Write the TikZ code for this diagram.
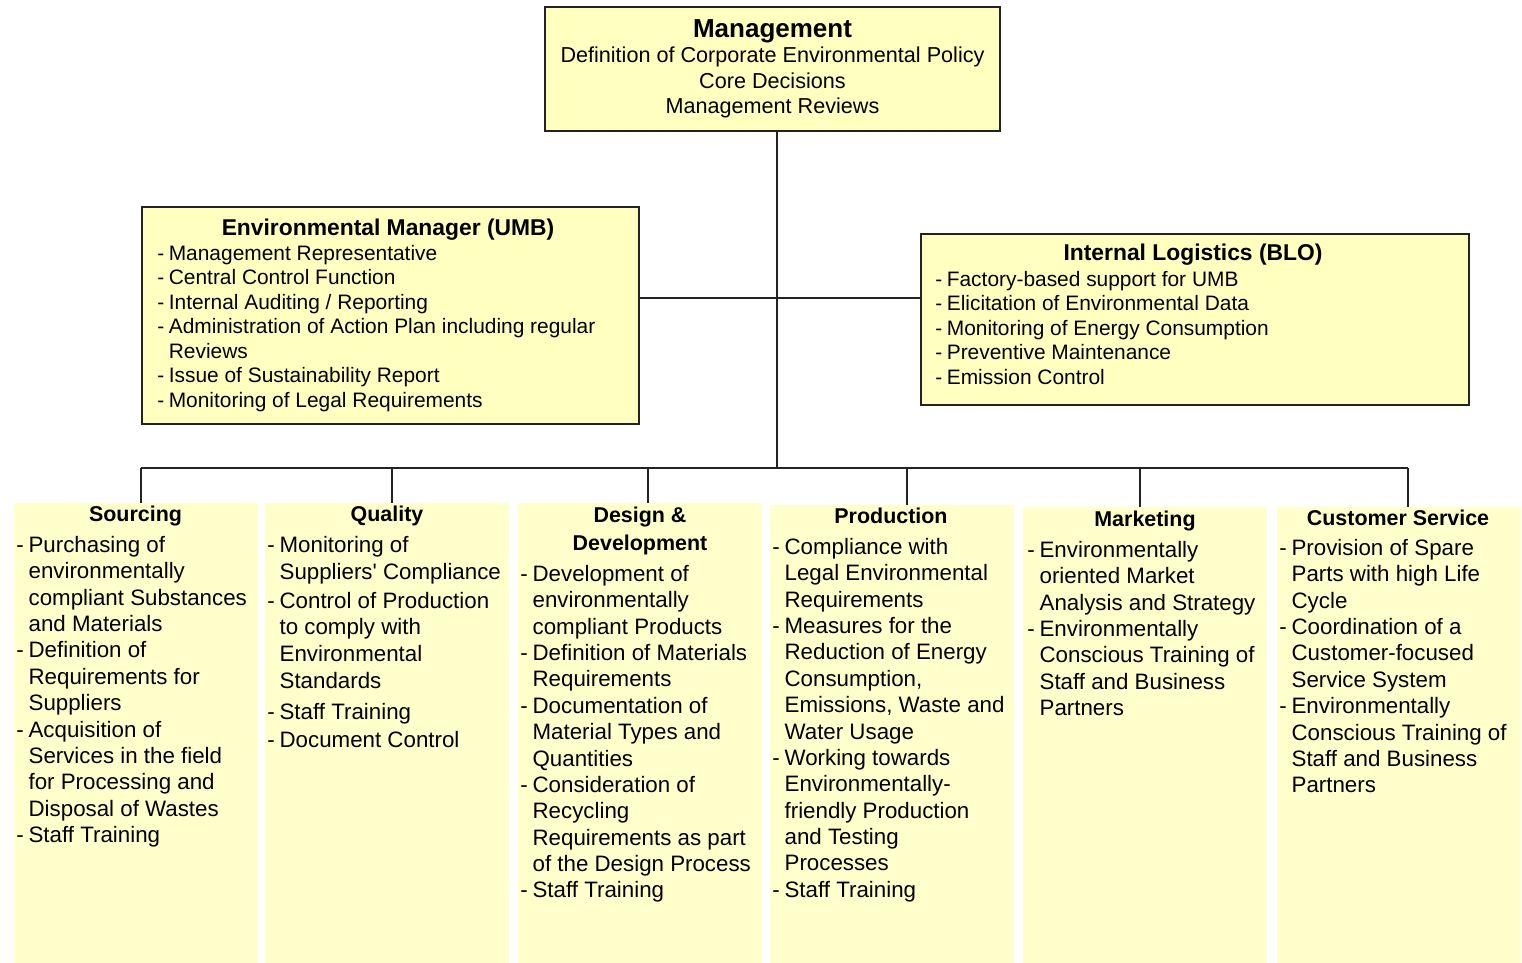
\documentclass[tikz,border=0pt]{standalone}
\usepackage{fontspec}
\setmainfont{Liberation Sans}
\usepackage{xcolor}

\definecolor{boxfill}{RGB}{255,255,192}
\definecolor{colfill}{RGB}{255,255,204}
\definecolor{linegray}{RGB}{35,35,35}

\newcommand{\itm}{\makebox[0.55em][l]{-}}
\newcommand{\ind}{\hspace*{0.55em}}

\begin{document}
\begin{tikzpicture}[
  x=0.02cm, y=-0.02cm,
  conn/.style={draw=linegray, line width=1.1pt},
  topbox/.style={draw=linegray, line width=1.2pt, fill=boxfill, anchor=north west, inner sep=0pt},
  colbox/.style={fill=colfill, anchor=north west, inner sep=0pt, minimum width=4.87cm, minimum height=9.3cm},
  boxtitle/.style={font=\bfseries\fontsize{13}{15}\selectfont, anchor=base, inner sep=0pt},
  coltitle/.style={font=\bfseries\fontsize{12.2}{16.4}\selectfont, anchor=base, inner sep=0pt, align=center},
  boxtext/.style={font=\fontsize{11.9}{14}\selectfont, anchor=north west, inner sep=0pt, align=left},
  coltext/.style={font=\fontsize{12.7}{15}\selectfont, anchor=north west, inner sep=0pt, align=left}
]
  \useasboundingbox (0,0) rectangle (1522,963);

  % Top level
  \node[topbox, anchor=center, minimum width=9.1cm, minimum height=2.48cm, align=center,
        font=\fontsize{12.3}{14.5}\selectfont] (mgmt) at (772.5,69)
    {{\bfseries\fontsize{14.8}{15}\selectfont Management}\\
     Definition of Corporate Environmental Policy\\ Core Decisions\\ Management Reviews};

  % Staff units
  \node[topbox, minimum width=9.94cm, minimum height=4.34cm] (env) at (141,206) {};
  \node[boxtitle] (envtitle) at (388,235.5) {Environmental Manager (UMB)};
  \node[boxtext] (envtext) at (157,244.5) {\itm Management Representative\\ \itm Central Control Function\\
    \itm Internal Auditing / Reporting\\ \itm Administration of Action Plan including regular\\
    \ind Reviews\\ \itm Issue of Sustainability Report\\ \itm Monitoring of Legal Requirements};

  \node[topbox, minimum width=10.96cm, minimum height=3.42cm] (log) at (920,233) {};
  \node[boxtitle] (logtitle) at (1193,260.5) {Internal Logistics (BLO)};
  \node[boxtext] (logtext) at (935,270.5) {\itm Factory-based support for UMB\\
    \itm Elicitation of Environmental Data\\ \itm Monitoring of Energy Consumption\\
    \itm Preventive Maintenance\\ \itm Emission Control};

  % Departments
  \node[colbox] (src) at (14,503) {};
  \node[colbox] (qual) at (265,503) {};
  \node[colbox] (dev) at (518,503) {};
  \node[colbox] (prod) at (770,505) {};
  \node[colbox] (mkt) at (1023,507) {};
  \node[colbox] (cserv) at (1277,507) {};

  \node[coltitle] (srctitle) at (135.5,521.5) {Sourcing};
  \node[coltitle] (qualtitle) at (387,521.5) {Quality};
  \node[coltitle, anchor=center] (devtitle) at (640,531) {Design \&\\ Development};
  \node[coltitle] (prodtitle) at (891,523.5) {Production};
  \node[coltitle] (mkttitle) at (1145,526.5) {Marketing};
  \node[coltitle] (cservtitle) at (1398,525.5) {Customer Service};

  \node[coltext] (srctext) at (16,536) {\itm Purchasing of\\ \ind environmentally\\
    \ind compliant Substances\\ \ind and Materials\\ \itm Definition of\\ \ind Requirements for\\
    \ind Suppliers\\ \itm Acquisition of\\ \ind Services in the field\\ \ind for Processing and\\
    \ind Disposal of Wastes\\ \itm Staff Training};
  \node[coltext, font=\fontsize{12.7}{15.3}\selectfont] (qualtext) at (267,536) {\itm Monitoring of\\
    \ind Suppliers\textquotesingle{} Compliance\\[1pt] \itm Control of Production\\ \ind to comply with\\
    \ind Environmental\\ \ind Standards\\[2pt] \itm Staff Training\\[1pt] \itm Document Control};
  \node[coltext] (devtext) at (520,565) {\itm Development of\\ \ind environmentally\\
    \ind compliant Products\\ \itm Definition of Materials\\ \ind Requirements\\
    \itm Documentation of\\ \ind Material Types and\\ \ind Quantities\\ \itm Consideration of\\
    \ind Recycling\\ \ind Requirements as part\\ \ind of the Design Process\\ \itm Staff Training};
  \node[coltext] (prodtext) at (772,538) {\itm Compliance with\\ \ind Legal Environmental\\
    \ind Requirements\\ \itm Measures for the\\ \ind Reduction of Energy\\ \ind Consumption,\\
    \ind Emissions, Waste and\\ \ind Water Usage\\ \itm Working towards\\ \ind Environmentally-\\
    \ind friendly Production\\ \ind and Testing\\ \ind Processes\\ \itm Staff Training};
  \node[coltext] (mkttext) at (1027,541) {\itm Environmentally\\ \ind oriented Market\\
    \ind Analysis and Strategy\\ \itm Environmentally\\ \ind Conscious Training of\\
    \ind Staff and Business\\ \ind Partners};
  \node[coltext] (cservtext) at (1279,539) {\itm Provision of Spare\\ \ind Parts with high Life\\
    \ind Cycle\\ \itm Coordination of a\\ \ind Customer-focused\\ \ind Service System\\
    \itm Environmentally\\ \ind Conscious Training of\\ \ind Staff and Business\\ \ind Partners};

  % Connecting lines
  \coordinate (bus) at (777,468);
  \coordinate (mid) at (777,298);
  \coordinate (src-drop) at (141,468);
  \coordinate (qual-drop) at (392,468);
  \coordinate (dev-drop) at (648,468);
  \coordinate (prod-drop) at (907,468);
  \coordinate (mkt-drop) at (1140,468);
  \coordinate (cserv-drop) at (1408,468);

  \draw[conn] (mgmt.south -| bus) -- (bus);
  \draw[conn] (env.east |- mid) -- (log.west |- mid);
  \draw[conn] (src-drop) -- (cserv-drop);
  \foreach \c in {src,qual,dev,prod,mkt,cserv}
    \draw[conn] (\c-drop) -- (\c-drop |- \c.north);

\end{tikzpicture}
\end{document}
